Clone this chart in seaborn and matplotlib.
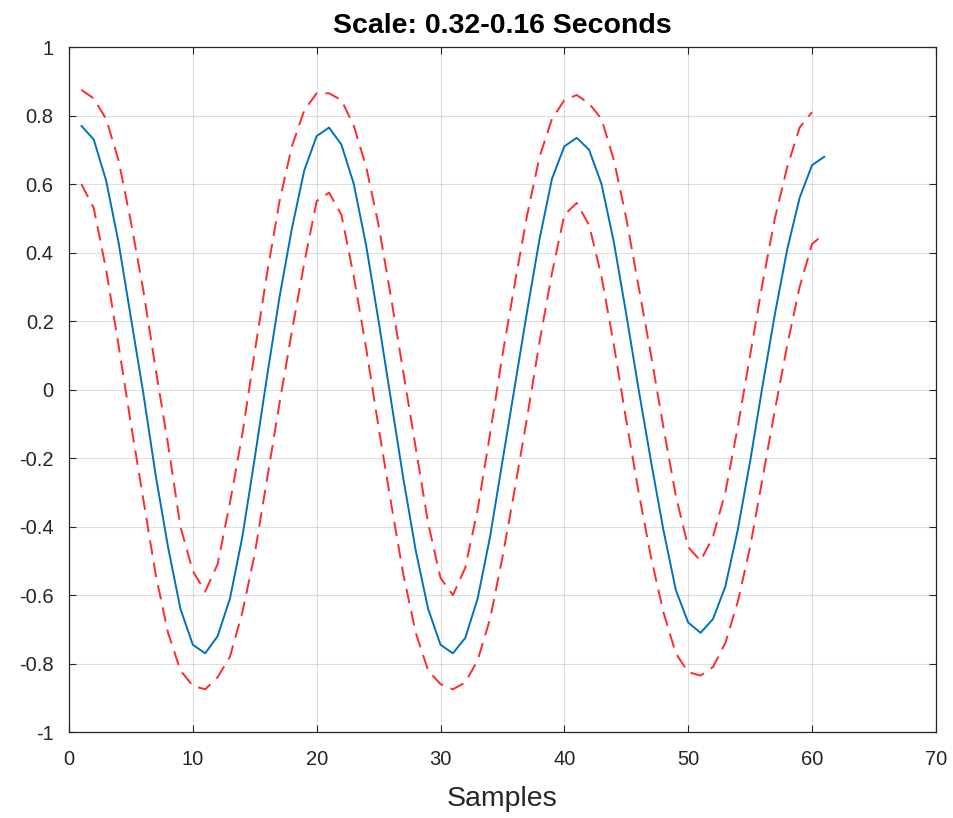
import numpy as np
import pandas as pd
import matplotlib
matplotlib.use("Agg")
import matplotlib.pyplot as plt
import seaborn as sns

# values (samples 1..61)
samples = list(range(1, 62))
signal = [0.77, 0.73, 0.61, 0.43, 0.21, -0.01, -0.25, -0.46, -0.64, -0.745,
          -0.77, -0.72, -0.61, -0.43, -0.20, 0.04, 0.27, 0.47, 0.64, 0.74,
          0.765, 0.715, 0.60, 0.42, 0.20, -0.03, -0.26, -0.47, -0.64, -0.745,
          -0.77, -0.725, -0.61, -0.43, -0.21, 0.01, 0.23, 0.44, 0.615, 0.71,
          0.735, 0.70, 0.60, 0.43, 0.22, 0.00, -0.21, -0.41, -0.585, -0.68,
          -0.71, -0.67, -0.575, -0.41, -0.21, 0.01, 0.22, 0.41, 0.56, 0.655,
          0.68]

upper_samples = list(range(1, 61))
upper = [0.875, 0.85, 0.79, 0.67, 0.49, 0.29, 0.06, -0.16, -0.40, -0.53,
         -0.59, -0.51, -0.33, -0.13, 0.11, 0.34, 0.55, 0.71, 0.815, 0.865,
         0.865, 0.845, 0.77, 0.65, 0.48, 0.27, 0.05, -0.17, -0.39, -0.55,
         -0.60, -0.52, -0.35, -0.13, 0.10, 0.31, 0.51, 0.68, 0.79, 0.845,
         0.86, 0.835, 0.79, 0.67, 0.50, 0.30, 0.10, -0.11, -0.31, -0.46,
         -0.50, -0.43, -0.30, -0.11, 0.10, 0.31, 0.50, 0.65, 0.765, 0.81]

lower = [0.60, 0.53, 0.35, 0.13, -0.10, -0.32, -0.54, -0.71, -0.82, -0.865,
         -0.875, -0.84, -0.78, -0.65, -0.48, -0.26, -0.04, 0.17, 0.37, 0.55,
         0.575, 0.51, 0.33, 0.12, -0.11, -0.33, -0.54, -0.71, -0.82, -0.86,
         -0.875, -0.855, -0.79, -0.67, -0.49, -0.29, -0.08, 0.14, 0.34, 0.51,
         0.545, 0.48, 0.33, 0.13, -0.09, -0.30, -0.49, -0.65, -0.77, -0.825,
         -0.835, -0.81, -0.74, -0.62, -0.46, -0.26, -0.06, 0.13, 0.30, 0.425,
         0.455]

xticks = [0, 10, 20, 30, 40, 50, 60, 70]
yticks = [-1, -0.8, -0.6, -0.4, -0.2, 0, 0.2, 0.4, 0.6, 0.8, 1]
ytick_labels = ["-1", "-0.8", "-0.6", "-0.4", "-0.2", "0", "0.2", "0.4", "0.6", "0.8", "1"]

sns.set_theme(style="ticks")
plt.rcParams["font.family"] = ["Liberation Sans", "DejaVu Sans"]
plt.rcParams["axes.unicode_minus"] = False

fig = plt.figure(figsize=(9.54, 8.18), dpi=100)
ax = fig.add_axes([0.0723, 0.105, 0.9087, 0.8375])

df_sig = pd.DataFrame({"x": samples, "y": signal})
df_up = pd.DataFrame({"x": upper_samples, "y": upper})
df_lo = pd.DataFrame({"x": samples, "y": lower})

sns.lineplot(data=df_sig, x="x", y="y", ax=ax, color="#0072BD", linewidth=1.4)
sns.lineplot(data=df_up, x="x", y="y", ax=ax, color="#FF2a2a", linewidth=1.4)
ax.lines[-1].set_dashes([7.5, 4.2])
sns.lineplot(data=df_lo, x="x", y="y", ax=ax, color="#FF2a2a", linewidth=1.4)
ax.lines[-1].set_dashes([7.5, 4.2])

ax.set_xlim(0, 70)
ax.set_ylim(-1, 1)
ax.set_xticks(xticks)
ax.set_xticklabels([str(t) for t in xticks])
ax.set_yticks(yticks)
ax.set_yticklabels(ytick_labels)

ax.grid(True, color="#262626", alpha=0.15, linewidth=0.8)
ax.tick_params(direction="in", length=5, width=0.8, colors="#262626",
               labelsize=14.5, top=True, right=True)
ax.tick_params(axis="x", pad=13)
ax.tick_params(axis="y", pad=11)
for s in ax.spines.values():
    s.set_color("#262626")
    s.set_linewidth(0.9)

ax.set_xlabel("Samples", fontsize=20.5, color="#262626", labelpad=12)
ax.set_ylabel("")
ax.set_title("Scale: 0.32-0.16 Seconds", fontsize=20.5, fontweight="bold",
             color="black", pad=10)

fig.savefig("out.png", dpi=100)
